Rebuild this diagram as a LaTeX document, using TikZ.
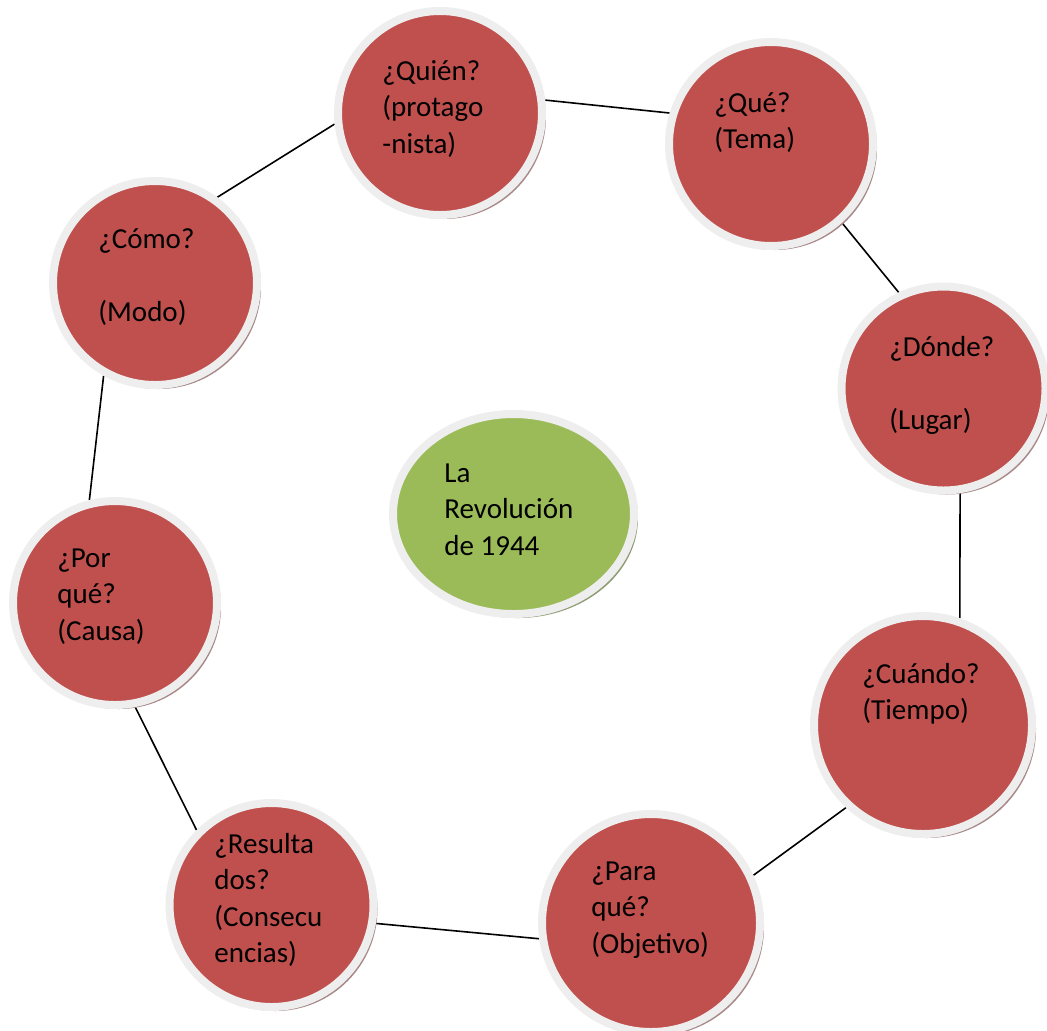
\documentclass[tikz,border=0pt]{standalone}
\usepackage{fontspec}
\setmainfont{Carlito}
\usetikzlibrary{shapes.geometric,shadows,backgrounds}
\definecolor{bubblered}{HTML}{C0504D}
\definecolor{bubblegreen}{HTML}{9BBB59}
\definecolor{bubblerim}{HTML}{EEEEEE}
\definecolor{redshade}{HTML}{A88888}
\definecolor{greenshade}{HTML}{8E9A70}
\tikzset{
  bubble/.style={circle, draw=bubblerim, fill=bubblered, line width=4pt,
    inner sep=0pt, outer sep=2pt, minimum size=102pt,
    drop shadow={shadow xshift=2pt, shadow yshift=-2pt, fill=redshade, opacity=1}},
  bigbubble/.style={bubble, minimum size=109pt},
  topicbubble/.style={ellipse, draw=bubblerim, fill=bubblegreen, line width=4pt,
    inner sep=0pt, outer sep=2pt, minimum width=120.5pt, minimum height=100pt,
    drop shadow={shadow xshift=2pt, shadow yshift=-2pt, fill=greenshade, opacity=1}},
  bubbletext/.style={anchor=north west, inner sep=0pt, align=left, text=black,
    font=\fontsize{14.5pt}{18.25pt}\selectfont},
  link/.style={draw=black, line width=0.8pt}
}

\begin{document}
\begin{tikzpicture}[x=0.5pt,y=-0.5pt]
  \useasboundingbox (0,0) rectangle (1047,1030);
  % question bubbles around the central topic
  \node[bubble] (quien) at (440,113) {};
  \node[bubble] (que) at (771,144) {};
  \node[bubble] (donde) at (943.5,388.5) {};
  \node[bigbubble] (cuando) at (923,725) {};
  \node[bigbubble] (paraque) at (651,923) {};
  \node[bubble] (resultados) at (271.5,905) {};
  \node[bubble] (porque) at (115,603) {};
  \node[bubble] (como) at (155,283) {};
  \node[topicbubble] (tema) at (513.5,514) {};

  % texts, left aligned inside the bubbles
  \node[bubbletext] (quienlbl) at (382,54.5) {\strut¿Quién?\\(protago\\-nista)};
  \node[bubbletext] (quelbl) at (714,86.5) {\strut¿Qué?\\(Tema)};
  \node[bubbletext] (dondelbl) at (889,330.5) {\strut¿Dónde?\\\mbox{}\\(Lugar)};
  \node[bubbletext] (cuandolbl) at (862,657.5) {\strut¿Cuándo?\\(Tiempo)};
  \node[bubbletext] (paraquelbl) at (591,854.5) {\strut¿Para\\qué?\\(Objetivo)};
  \node[bubbletext] (resultadoslbl) at (214,827.5) {\strut¿Resulta\\dos?\\(Consecu\\encias)};
  \node[bubbletext] (porquelbl) at (57,541.5) {\strut¿Por\\qué?\\(Causa)};
  \node[bubbletext] (comolbl) at (98,222.5) {\strut¿Cómo?\\\mbox{}\\(Modo)};
  \node[bubbletext] (temalbl) at (444,456.5) {\strut La\\Revolución\\de 1944};

  % links between neighbouring bubbles
  \begin{scope}[on background layer]
    \draw[link] (como.54) -- (quien.186);
    \draw[link] (quien.7) -- (que.163);
    \draw[link] (que.-48) -- (donde.115);
    \draw[link] (donde.-81) -- (cuando.71);
    \draw[link] (cuando.227) -- (paraque.25);
    \draw[link] (paraque.188) -- (resultados.-10);
    \draw[link] (resultados.135) -- (porque.-79);
    \draw[link] (porque.104) -- (como.241);
  \end{scope}
\end{tikzpicture}
\end{document}
